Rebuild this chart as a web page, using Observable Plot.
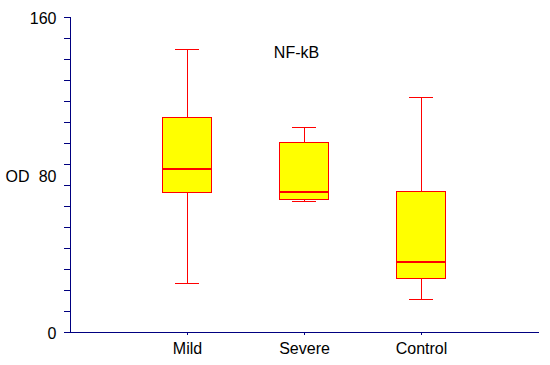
<!DOCTYPE html>
<html>
<head>
<meta charset="utf-8">
<script src="https://cdn.jsdelivr.net/npm/d3@7"></script>
<script src="https://cdn.jsdelivr.net/npm/@observablehq/plot@0.6"></script>
<style>
  html, body { margin: 0; padding: 0; background: #fff; }
  #chart svg text { fill: #000; }
  #chart svg line, #chart svg rect, #chart svg path { shape-rendering: crispEdges; }
</style>
</head>
<body>
<div id="chart"></div>
<script>
const categories = ["Mild", "Severe", "Control"];
const whiskerLow = [25, 66.5, 17];
const q1 = [71, 67.5, 27];
const median = [83, 71.3, 35.8];
const q3 = [109.2, 96.4, 71.5];
const whiskerHigh = [143.7, 104, 119.3];
const yTickLabels = [0, 80, 160];
const yMinorCount = 15;
const title = "NF-kB";
const yLabel = "OD";

const boxes = categories.map((c, i) => ({
  cat: c, lo: whiskerLow[i], q1: q1[i], med: median[i], q3: q3[i], hi: whiskerHigh[i]
}));
const minorTicks = d3.range(yMinorCount + 1).map(i => i * 160 / yMinorCount);

const red = "#ff0000";
const chart = Plot.plot({
  width: 550,
  height: 365,
  marginLeft: 70,
  marginRight: 12,
  marginTop: 17,
  marginBottom: 33,
  style: { fontFamily: "Liberation Sans, Arial, sans-serif", fontSize: "16px", color: "#000080", background: "#fff" },
  x: {
    type: "band",
    domain: categories,
    paddingInner: 0.58974,
    paddingOuter: 0.79487,
    round: false,
    tickSize: 3,
    tickPadding: 7,
    line: true,
    label: null
  },
  y: {
    domain: [0, 160],
    ticks: minorTicks,
    tickSize: 6,
    tickFormat: () => "",
    line: true,
    label: null
  },
  marks: [
    Plot.ruleX(boxes, { x: "cat", y1: "lo", y2: "q1", stroke: red, strokeWidth: 1 }),
    Plot.ruleX(boxes, { x: "cat", y1: "q3", y2: "hi", stroke: red, strokeWidth: 1 }),
    Plot.tickY(boxes, { x: "cat", y: "lo", stroke: red, strokeWidth: 1, insetLeft: 12, insetRight: 12 }),
    Plot.tickY(boxes, { x: "cat", y: "hi", stroke: red, strokeWidth: 1, insetLeft: 12, insetRight: 12 }),
    Plot.barY(boxes, { x: "cat", y1: "q1", y2: "q3", fill: "#ffff00", stroke: red, strokeWidth: 1 }),
    Plot.tickY(boxes, { x: "cat", y: "med", stroke: red, strokeWidth: 2 }),
    Plot.text(yTickLabels, { y: d => d, text: d => String(d), frameAnchor: "left", textAnchor: "end", dx: -14, dy: 1.5, fill: "#000" }),
    Plot.text([yLabel], { text: d => d, frameAnchor: "left", textAnchor: "start", dx: -65, dy: 2, fill: "#000" }),
    Plot.text([title], { text: d => d, frameAnchor: "top", dx: -8, dy: 29, fill: "#000" })
  ]
});
document.getElementById("chart").appendChild(chart);
</script>
</body>
</html>
